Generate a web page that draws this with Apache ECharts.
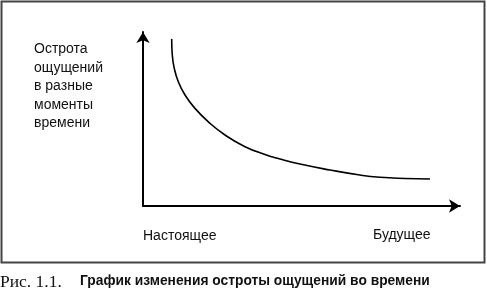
<!DOCTYPE html>
<html><head><meta charset="utf-8">
<script src="https://cdn.jsdelivr.net/npm/echarts@6/dist/echarts.min.js"></script>
<style>html,body{margin:0;padding:0;background:#fff}#c{width:487px;height:291px}</style>
</head><body><div id="c"></div>
<script>
const curveX = [9.05, 9.24, 9.87, 11.14, 13.25, 16.40, 20.60, 25.87, 32.18, 38.49, 43.22, 49.53, 58.99, 68.45, 74.76, 82.6, 90.54];
const curveY = [96.0, 86.8, 79.1, 71.4, 63.8, 56.1, 48.4, 40.8, 34.1, 29.6, 27.0, 24.1, 20.7, 17.8, 16.5, 15.8, 15.5];
const yLabelLines = ['Острота', 'ощущений', 'в разные', 'моменты', 'времени'];
const xStartLabel = 'Настоящее';
const xEndLabel = 'Будущее';
const captionNum = 'Рис. 1.1.';
const captionText = 'График изменения остроты ощущений во времени';

const chart = echarts.init(document.getElementById('c'), null, {renderer: 'canvas'});
const data = curveX.map((x, i) => [x, curveY[i]]);
const sans = 'Liberation Sans, Arial, sans-serif';
chart.setOption({
  animation: false,
  grid: {left: 143, right: 27, top: 32, bottom: 85},
  xAxis: {
    type: 'value', min: 0, max: 100,
    axisLine: {show: true, onZero: false, lineStyle: {color: '#000', width: 2}, symbol: ['none', 'arrow'], symbolSize: [10, 11]},
    axisTick: {show: false}, axisLabel: {show: false}, splitLine: {show: false}
  },
  yAxis: {
    type: 'value', min: 0, max: 100,
    axisLine: {show: true, onZero: false, lineStyle: {color: '#000', width: 2}, symbol: ['none', 'arrow'], symbolSize: [10, 11]},
    axisTick: {show: false}, axisLabel: {show: false}, splitLine: {show: false}
  },
  series: [{
    type: 'line', data: data, smooth: 0.5, showSymbol: false,
    lineStyle: {color: '#000', width: 1.6}
  }],
  graphic: [
    {type: 'rect', shape: {x: 1.5, y: 1.5, width: 483, height: 261}, style: {fill: 'none', stroke: '#444', lineWidth: 2}, silent: true},
    {type: 'text', left: 34, top: 40, style: {text: yLabelLines.join('\n'), font: '14px ' + sans, lineHeight: 18.5, fill: '#111'}},
    {type: 'text', left: 143, top: 229, style: {text: xStartLabel, font: '14px ' + sans, fill: '#111'}},
    {type: 'text', left: 373, top: 228, style: {text: xEndLabel, font: '14px ' + sans, fill: '#111'}},
    {type: 'text', left: 0, top: 273, style: {text: captionNum, font: '17.5px Liberation Serif, serif', fill: '#111'}},
    {type: 'text', x: 80, y: 273, scaleX: 0.92, style: {text: captionText, font: 'bold 15px Liberation Sans Narrow, Arial Narrow, sans-serif', fill: '#111'}}
  ]
});
</script></body></html>
